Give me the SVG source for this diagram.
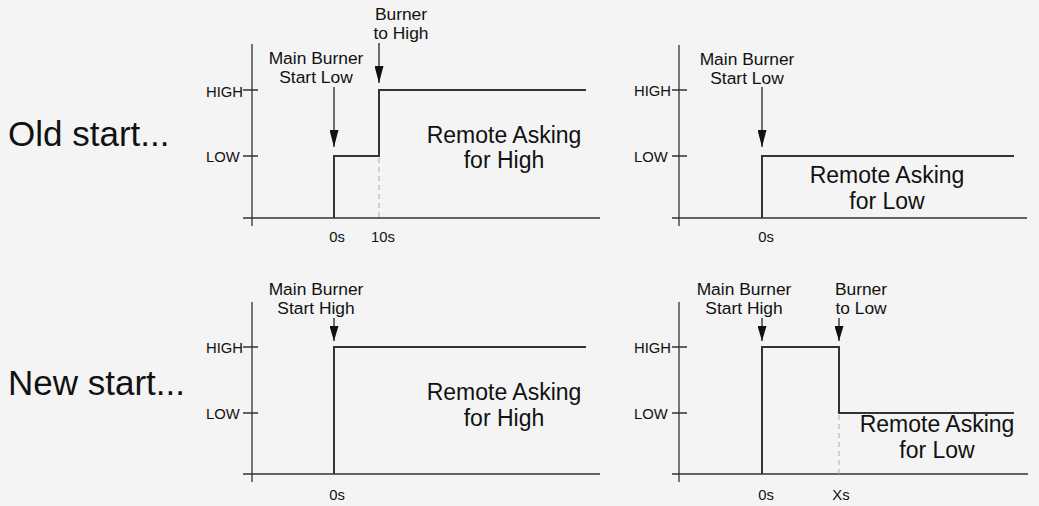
<svg xmlns="http://www.w3.org/2000/svg" width="1039" height="506" viewBox="0 0 1039 506">
<defs>
<marker id="ah" viewBox="0 0 9 17" refX="4.5" refY="17" markerWidth="9" markerHeight="17" markerUnits="userSpaceOnUse" orient="0">
<path d="M0,0 L9,0 L4.5,17 Z" fill="#111"/>
</marker>
<marker id="ah2" viewBox="0 0 9 15" refX="4.5" refY="15" markerWidth="9" markerHeight="15" markerUnits="userSpaceOnUse" orient="0">
<path d="M0,0 L9,0 L4.5,15 Z" fill="#111"/>
</marker>
</defs>
<style>
text{font-family:"Liberation Sans",Arial,sans-serif;fill:#111}
.big{font-size:35px}
.lbl{font-size:17.4px;text-anchor:middle}
.rem{font-size:23px;text-anchor:middle}
.tk{font-size:14.8px}
.tx{font-size:14.8px;text-anchor:middle}
.axis{stroke:#333;stroke-width:1.3;fill:none}
.sig{stroke:#333;stroke-width:2;fill:none}
.dash{stroke:#aaa;stroke-width:1;stroke-dasharray:5,4;fill:none}
.arr{stroke:#111;stroke-width:1.2;fill:none}
</style>
<rect width="1039" height="506" fill="#f4f4f4"/>
<g id="titles">
<text class="big" x="8" y="146">Old start...</text>
<text class="big" x="8" y="395">New start...</text>
</g>
<g id="panel1">
<path class="axis" d="M252,44 V226 M243,218 H600 M243,90 H258 M243,156 H258"/>
<text class="tk" x="206" y="96.5">HIGH</text>
<text class="tk" x="206" y="161.7">LOW</text>
<text class="tx" x="337" y="242">0s</text>
<text class="tx" x="383" y="242">10s</text>
<text class="lbl" x="316" y="64">Main Burner</text>
<text class="lbl" x="316" y="83">Start Low</text>
<text class="lbl" x="401" y="20">Burner</text>
<text class="lbl" x="401" y="39">to High</text>
<text class="rem" x="504" y="143">Remote Asking</text>
<text class="rem" x="504" y="168">for High</text>
</g>
<g id="panel2">
<path class="axis" d="M679,45 V226 M672,218 H1027 M672,90 H687 M672,156 H687"/>
<text class="tk" x="634" y="96">HIGH</text>
<text class="tk" x="634" y="161.7">LOW</text>
<text class="tx" x="766" y="242">0s</text>
<text class="lbl" x="747" y="65">Main Burner</text>
<text class="lbl" x="747" y="84">Start Low</text>
<text class="rem" x="887" y="183">Remote Asking</text>
<text class="rem" x="887" y="209">for Low</text>
</g>
<g id="panel3">
<path class="axis" d="M252,302 V482 M243,474 H600 M243,347 H258 M243,413 H258"/>
<text class="tk" x="206" y="353">HIGH</text>
<text class="tk" x="206" y="419">LOW</text>
<text class="tx" x="337" y="500">0s</text>
<text class="lbl" x="316" y="295">Main Burner</text>
<text class="lbl" x="316" y="314">Start High</text>
<text class="rem" x="504" y="400">Remote Asking</text>
<text class="rem" x="504" y="425.7">for High</text>
</g>
<g id="panel4">
<path class="axis" d="M679,302 V482 M672,474 H1028 M672,347 H687 M672,413 H687"/>
<text class="tk" x="634" y="353">HIGH</text>
<text class="tk" x="634" y="419">LOW</text>
<text class="tx" x="766" y="500">0s</text>
<text class="tx" x="841" y="500">Xs</text>
<text class="lbl" x="744" y="295">Main Burner</text>
<text class="lbl" x="744" y="314">Start High</text>
<text class="lbl" x="861" y="295">Burner</text>
<text class="lbl" x="861" y="314">to Low</text>
<text class="rem" x="937" y="432">Remote Asking</text>
<text class="rem" x="937" y="457.7">for Low</text>
</g>
<g id="connectors">
<path class="sig" d="M334,218 V156 H379 V90 H586"/>
<path class="dash" d="M379,158 V218"/>
<path class="sig" d="M762,218 V156 H1014"/>
<path class="sig" d="M334,474 V347 H586"/>
<path class="sig" d="M762,474 V347 H839 V413 H1014"/>
<path class="dash" d="M839,415 V474"/>
<path class="arr" d="M334,87 V147" marker-end="url(#ah)"/>
<path class="arr" d="M379,43 V83" marker-end="url(#ah)"/>
<path class="arr" d="M762,87 V147" marker-end="url(#ah)"/>
<path class="arr" d="M334,318 V341" marker-end="url(#ah2)"/>
<path class="arr" d="M762,318 V341" marker-end="url(#ah2)"/>
<path class="arr" d="M839,318 V341" marker-end="url(#ah2)"/>
</g>
</svg>
